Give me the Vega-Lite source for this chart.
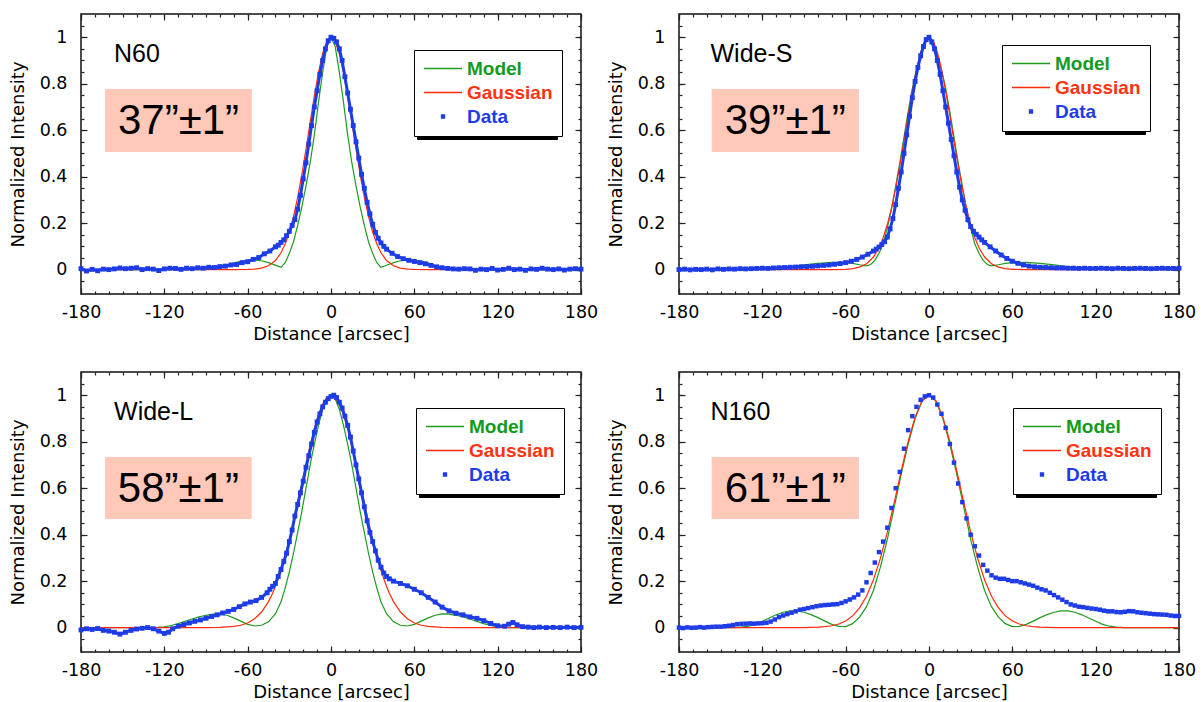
{
"$schema": "https://vega.github.io/schema/vega-lite/v6.json",
"background": "white",
"autosize": {"type": "pad"},
"padding": {"left": 8, "top": 12, "right": 4, "bottom": 4},
"config": {
  "view": {"stroke": "#111", "strokeWidth": 1.5},
  "axis": {"grid": false, "domain": false, "labelFont": "DejaVu Sans", "labelFontSize": 17.5, "labelColor": "#000", "titleFont": "DejaVu Sans", "titleFontSize": 18, "titleFontWeight": "normal", "titleColor": "#000", "tickColor": "#222", "tickWidth": 1.2}
},
"columns": 2,
"spacing": {"row": 78, "column": 98},
"bounds": "flush",
"resolve": {"scale": {"color": "independent", "shape": "independent"}, "legend": {"color": "independent", "shape": "independent"}},
"datasets": {
"n60_model": [{"x":-180,"y":0},{"x":-120,"y":0},{"x":-100,"y":0},{"x":-90,"y":0.001},{"x":-85,"y":0.002},{"x":-80,"y":0.005},{"x":-75,"y":0.016},{"x":-70,"y":0.029},{"x":-65,"y":0.036},{"x":-60,"y":0.04},{"x":-55,"y":0.041},{"x":-50,"y":0.038},{"x":-45,"y":0.03},{"x":-40,"y":0.019},{"x":-36,"y":0.01},{"x":-33,"y":0.03},{"x":-30,"y":0.07},{"x":-27,"y":0.12},{"x":-24,"y":0.19},{"x":-21,"y":0.27},{"x":-18,"y":0.36},{"x":-15,"y":0.46},{"x":-12,"y":0.58},{"x":-9,"y":0.72},{"x":-6,"y":0.85},{"x":-3,"y":0.96},{"x":0,"y":1},{"x":3,"y":0.96},{"x":6,"y":0.85},{"x":9,"y":0.72},{"x":12,"y":0.58},{"x":15,"y":0.46},{"x":18,"y":0.36},{"x":21,"y":0.27},{"x":24,"y":0.19},{"x":27,"y":0.12},{"x":30,"y":0.07},{"x":33,"y":0.03},{"x":36,"y":0.01},{"x":40,"y":0.019},{"x":45,"y":0.03},{"x":50,"y":0.038},{"x":55,"y":0.041},{"x":60,"y":0.04},{"x":65,"y":0.036},{"x":70,"y":0.029},{"x":75,"y":0.016},{"x":80,"y":0.005},{"x":85,"y":0.002},{"x":90,"y":0.001},{"x":100,"y":0},{"x":120,"y":0},{"x":180,"y":0}],
"n60_gauss": [{"x":-180,"y":0},{"x":-90,"y":0},{"x":-70,"y":0.0001},{"x":-60,"y":0.0007},{"x":-55,"y":0.0022},{"x":-50,"y":0.0063},{"x":-45,"y":0.0165},{"x":-40,"y":0.039},{"x":-36,"y":0.0724},{"x":-33,"y":0.11},{"x":-30,"y":0.162},{"x":-27,"y":0.228},{"x":-24,"y":0.311},{"x":-21,"y":0.409},{"x":-18,"y":0.519},{"x":-15,"y":0.634},{"x":-12,"y":0.747},{"x":-9,"y":0.849},{"x":-6,"y":0.93},{"x":-3,"y":0.982},{"x":0,"y":1},{"x":3,"y":0.982},{"x":6,"y":0.93},{"x":9,"y":0.849},{"x":12,"y":0.747},{"x":15,"y":0.634},{"x":18,"y":0.519},{"x":21,"y":0.409},{"x":24,"y":0.311},{"x":27,"y":0.228},{"x":30,"y":0.162},{"x":33,"y":0.11},{"x":36,"y":0.0724},{"x":40,"y":0.039},{"x":45,"y":0.0165},{"x":50,"y":0.0063},{"x":55,"y":0.0022},{"x":60,"y":0.0007},{"x":70,"y":0.0001},{"x":90,"y":0},{"x":180,"y":0}],
"n60_data": [{"x":-180,"y":0.004},{"x":-176,"y":-0.006},{"x":-172,"y":0.001},{"x":-168,"y":-0.005},{"x":-164,"y":0.002},{"x":-160,"y":0.0},{"x":-156,"y":0.003},{"x":-152,"y":0.007},{"x":-148,"y":0.004},{"x":-144,"y":0.006},{"x":-140,"y":0.008},{"x":-136,"y":0.0},{"x":-132,"y":0.004},{"x":-128,"y":0.002},{"x":-124,"y":-0.004},{"x":-120,"y":0.003},{"x":-116,"y":0.006},{"x":-112,"y":0.005},{"x":-108,"y":0.001},{"x":-104,"y":0.006},{"x":-100,"y":0.004},{"x":-96,"y":0.008},{"x":-92,"y":0.006},{"x":-88,"y":0.01},{"x":-84,"y":0.009},{"x":-80,"y":0.013},{"x":-76,"y":0.015},{"x":-72,"y":0.02},{"x":-68,"y":0.022},{"x":-64,"y":0.03},{"x":-60,"y":0.034},{"x":-56,"y":0.044},{"x":-52,"y":0.052},{"x":-48,"y":0.068},{"x":-44,"y":0.08},{"x":-40,"y":0.098},{"x":-38,"y":0.105},{"x":-36,"y":0.117},{"x":-34,"y":0.128},{"x":-32,"y":0.146},{"x":-30,"y":0.165},{"x":-28,"y":0.19},{"x":-26,"y":0.215},{"x":-24,"y":0.26},{"x":-22,"y":0.32},{"x":-20,"y":0.39},{"x":-18,"y":0.46},{"x":-16,"y":0.54},{"x":-14,"y":0.62},{"x":-12,"y":0.7},{"x":-10,"y":0.77},{"x":-8,"y":0.84},{"x":-6,"y":0.9},{"x":-4,"y":0.95},{"x":-2,"y":0.985},{"x":0,"y":1.0},{"x":2,"y":0.995},{"x":4,"y":0.98},{"x":6,"y":0.95},{"x":8,"y":0.9},{"x":10,"y":0.83},{"x":12,"y":0.76},{"x":14,"y":0.69},{"x":16,"y":0.62},{"x":18,"y":0.55},{"x":20,"y":0.48},{"x":22,"y":0.41},{"x":24,"y":0.35},{"x":26,"y":0.29},{"x":28,"y":0.24},{"x":30,"y":0.195},{"x":32,"y":0.16},{"x":34,"y":0.135},{"x":36,"y":0.115},{"x":38,"y":0.1},{"x":40,"y":0.088},{"x":44,"y":0.07},{"x":48,"y":0.056},{"x":52,"y":0.047},{"x":56,"y":0.04},{"x":60,"y":0.035},{"x":64,"y":0.03},{"x":68,"y":0.025},{"x":72,"y":0.018},{"x":76,"y":0.012},{"x":80,"y":0.008},{"x":84,"y":0.005},{"x":88,"y":0.003},{"x":92,"y":0.002},{"x":96,"y":0.004},{"x":100,"y":0.003},{"x":104,"y":-0.003},{"x":108,"y":0.002},{"x":112,"y":0.0},{"x":116,"y":0.005},{"x":120,"y":-0.002},{"x":124,"y":0.001},{"x":128,"y":0.006},{"x":132,"y":0.0},{"x":136,"y":0.002},{"x":140,"y":-0.003},{"x":144,"y":0.003},{"x":148,"y":0.001},{"x":152,"y":0.006},{"x":156,"y":0.002},{"x":160,"y":0.0},{"x":164,"y":0.003},{"x":168,"y":-0.002},{"x":172,"y":0.002},{"x":176,"y":0.004},{"x":180,"y":0.002}],
"ws_model": [{"x":-180,"y":0},{"x":-140,"y":0},{"x":-130,"y":0.001},{"x":-120,"y":0.003},{"x":-110,"y":0.007},{"x":-100,"y":0.013},{"x":-90,"y":0.02},{"x":-80,"y":0.027},{"x":-70,"y":0.031},{"x":-60,"y":0.03},{"x":-55,"y":0.027},{"x":-50,"y":0.021},{"x":-45,"y":0.016},{"x":-42,"y":0.022},{"x":-39,"y":0.04},{"x":-36,"y":0.07},{"x":-33,"y":0.11},{"x":-30,"y":0.18},{"x":-27,"y":0.26},{"x":-24,"y":0.36},{"x":-21,"y":0.46},{"x":-18,"y":0.57},{"x":-15,"y":0.68},{"x":-12,"y":0.78},{"x":-9,"y":0.86},{"x":-6,"y":0.93},{"x":-3,"y":0.98},{"x":0,"y":1},{"x":3,"y":0.98},{"x":6,"y":0.93},{"x":9,"y":0.86},{"x":12,"y":0.78},{"x":15,"y":0.68},{"x":18,"y":0.57},{"x":21,"y":0.46},{"x":24,"y":0.36},{"x":27,"y":0.26},{"x":30,"y":0.18},{"x":33,"y":0.11},{"x":36,"y":0.07},{"x":39,"y":0.04},{"x":42,"y":0.022},{"x":45,"y":0.016},{"x":50,"y":0.021},{"x":55,"y":0.027},{"x":60,"y":0.03},{"x":70,"y":0.031},{"x":80,"y":0.027},{"x":90,"y":0.02},{"x":100,"y":0.013},{"x":110,"y":0.007},{"x":120,"y":0.003},{"x":130,"y":0.001},{"x":140,"y":0},{"x":180,"y":0}],
"ws_gauss": [{"x":-180,"y":0},{"x":-70,"y":0.0001},{"x":-60,"y":0.0014},{"x":-55,"y":0.004},{"x":-50,"y":0.0105},{"x":-45,"y":0.025},{"x":-40,"y":0.054},{"x":-36,"y":0.094},{"x":-33,"y":0.137},{"x":-30,"y":0.194},{"x":-27,"y":0.265},{"x":-24,"y":0.35},{"x":-21,"y":0.447},{"x":-18,"y":0.554},{"x":-15,"y":0.663},{"x":-12,"y":0.769},{"x":-9,"y":0.863},{"x":-6,"y":0.936},{"x":-3,"y":0.984},{"x":0,"y":1},{"x":3,"y":0.984},{"x":6,"y":0.936},{"x":9,"y":0.863},{"x":12,"y":0.769},{"x":15,"y":0.663},{"x":18,"y":0.554},{"x":21,"y":0.447},{"x":24,"y":0.35},{"x":27,"y":0.265},{"x":30,"y":0.194},{"x":33,"y":0.137},{"x":36,"y":0.094},{"x":40,"y":0.054},{"x":45,"y":0.025},{"x":50,"y":0.0105},{"x":55,"y":0.004},{"x":60,"y":0.0014},{"x":70,"y":0.0001},{"x":180,"y":0}],
"ws_data": [{"x":-180,"y":0.0},{"x":-176,"y":0.002},{"x":-172,"y":-0.001},{"x":-168,"y":0.001},{"x":-164,"y":0.0},{"x":-160,"y":0.002},{"x":-156,"y":-0.001},{"x":-152,"y":0.003},{"x":-148,"y":0.001},{"x":-144,"y":0.003},{"x":-140,"y":0.002},{"x":-136,"y":0.004},{"x":-132,"y":0.003},{"x":-128,"y":0.004},{"x":-124,"y":0.005},{"x":-120,"y":0.006},{"x":-116,"y":0.005},{"x":-112,"y":0.007},{"x":-108,"y":0.008},{"x":-104,"y":0.009},{"x":-100,"y":0.01},{"x":-96,"y":0.011},{"x":-92,"y":0.012},{"x":-88,"y":0.013},{"x":-84,"y":0.014},{"x":-80,"y":0.016},{"x":-76,"y":0.018},{"x":-72,"y":0.02},{"x":-68,"y":0.023},{"x":-64,"y":0.026},{"x":-60,"y":0.03},{"x":-56,"y":0.036},{"x":-52,"y":0.044},{"x":-48,"y":0.054},{"x":-44,"y":0.066},{"x":-40,"y":0.08},{"x":-38,"y":0.088},{"x":-36,"y":0.097},{"x":-34,"y":0.108},{"x":-32,"y":0.12},{"x":-30,"y":0.14},{"x":-28,"y":0.175},{"x":-26,"y":0.22},{"x":-24,"y":0.28},{"x":-22,"y":0.35},{"x":-20,"y":0.42},{"x":-18,"y":0.5},{"x":-16,"y":0.58},{"x":-14,"y":0.66},{"x":-12,"y":0.74},{"x":-10,"y":0.81},{"x":-8,"y":0.87},{"x":-6,"y":0.92},{"x":-4,"y":0.96},{"x":-2,"y":0.99},{"x":0,"y":1.0},{"x":2,"y":0.98},{"x":4,"y":0.95},{"x":6,"y":0.9},{"x":8,"y":0.84},{"x":10,"y":0.77},{"x":12,"y":0.7},{"x":14,"y":0.63},{"x":16,"y":0.56},{"x":18,"y":0.49},{"x":20,"y":0.42},{"x":22,"y":0.355},{"x":24,"y":0.3},{"x":26,"y":0.255},{"x":28,"y":0.215},{"x":30,"y":0.185},{"x":32,"y":0.165},{"x":34,"y":0.152},{"x":36,"y":0.14},{"x":38,"y":0.128},{"x":40,"y":0.117},{"x":44,"y":0.098},{"x":48,"y":0.08},{"x":52,"y":0.063},{"x":56,"y":0.048},{"x":60,"y":0.036},{"x":64,"y":0.027},{"x":68,"y":0.02},{"x":72,"y":0.015},{"x":76,"y":0.012},{"x":80,"y":0.01},{"x":84,"y":0.009},{"x":88,"y":0.008},{"x":92,"y":0.007},{"x":96,"y":0.007},{"x":100,"y":0.006},{"x":104,"y":0.006},{"x":108,"y":0.005},{"x":112,"y":0.006},{"x":116,"y":0.005},{"x":120,"y":0.005},{"x":124,"y":0.006},{"x":128,"y":0.005},{"x":132,"y":0.004},{"x":136,"y":0.006},{"x":140,"y":0.005},{"x":144,"y":0.004},{"x":148,"y":0.005},{"x":152,"y":0.006},{"x":156,"y":0.005},{"x":160,"y":0.004},{"x":164,"y":0.005},{"x":168,"y":0.006},{"x":172,"y":0.005},{"x":176,"y":0.005},{"x":180,"y":0.006}],
"wl_model": [{"x":-180,"y":0},{"x":-130,"y":0},{"x":-125,"y":0.001},{"x":-120,"y":0.003},{"x":-115,"y":0.009},{"x":-110,"y":0.017},{"x":-105,"y":0.027},{"x":-100,"y":0.037},{"x":-95,"y":0.046},{"x":-90,"y":0.053},{"x":-85,"y":0.058},{"x":-80,"y":0.059},{"x":-75,"y":0.053},{"x":-70,"y":0.042},{"x":-65,"y":0.028},{"x":-60,"y":0.014},{"x":-55,"y":0.007},{"x":-50,"y":0.01},{"x":-45,"y":0.025},{"x":-40,"y":0.06},{"x":-36,"y":0.11},{"x":-33,"y":0.17},{"x":-30,"y":0.24},{"x":-27,"y":0.32},{"x":-24,"y":0.41},{"x":-21,"y":0.5},{"x":-18,"y":0.6},{"x":-15,"y":0.7},{"x":-12,"y":0.79},{"x":-9,"y":0.87},{"x":-6,"y":0.94},{"x":-3,"y":0.985},{"x":0,"y":1},{"x":3,"y":0.985},{"x":6,"y":0.94},{"x":9,"y":0.87},{"x":12,"y":0.79},{"x":15,"y":0.7},{"x":18,"y":0.6},{"x":21,"y":0.5},{"x":24,"y":0.41},{"x":27,"y":0.32},{"x":30,"y":0.24},{"x":33,"y":0.17},{"x":36,"y":0.11},{"x":40,"y":0.06},{"x":45,"y":0.025},{"x":50,"y":0.01},{"x":55,"y":0.007},{"x":60,"y":0.014},{"x":65,"y":0.028},{"x":70,"y":0.042},{"x":75,"y":0.053},{"x":80,"y":0.059},{"x":85,"y":0.058},{"x":90,"y":0.053},{"x":95,"y":0.046},{"x":100,"y":0.037},{"x":105,"y":0.027},{"x":110,"y":0.017},{"x":115,"y":0.009},{"x":120,"y":0.003},{"x":125,"y":0.001},{"x":130,"y":0},{"x":180,"y":0}],
"wl_gauss": [{"x":-180,"y":0},{"x":-90,"y":0},{"x":-80,"y":0.001},{"x":-70,"y":0.005},{"x":-65,"y":0.01},{"x":-60,"y":0.02},{"x":-55,"y":0.038},{"x":-50,"y":0.067},{"x":-45,"y":0.112},{"x":-42,"y":0.148},{"x":-39,"y":0.193},{"x":-36,"y":0.246},{"x":-33,"y":0.308},{"x":-30,"y":0.378},{"x":-27,"y":0.455},{"x":-24,"y":0.536},{"x":-21,"y":0.621},{"x":-18,"y":0.704},{"x":-15,"y":0.784},{"x":-12,"y":0.856},{"x":-9,"y":0.916},{"x":-6,"y":0.962},{"x":-3,"y":0.99},{"x":0,"y":1},{"x":3,"y":0.99},{"x":6,"y":0.962},{"x":9,"y":0.916},{"x":12,"y":0.856},{"x":15,"y":0.784},{"x":18,"y":0.704},{"x":21,"y":0.621},{"x":24,"y":0.536},{"x":27,"y":0.455},{"x":30,"y":0.378},{"x":33,"y":0.308},{"x":36,"y":0.246},{"x":39,"y":0.193},{"x":42,"y":0.148},{"x":45,"y":0.112},{"x":50,"y":0.067},{"x":55,"y":0.038},{"x":60,"y":0.02},{"x":65,"y":0.01},{"x":70,"y":0.005},{"x":80,"y":0.001},{"x":90,"y":0},{"x":180,"y":0}],
"wl_data": [{"x":-180,"y":-0.01},{"x":-176,"y":-0.005},{"x":-172,"y":-0.008},{"x":-168,"y":-0.004},{"x":-164,"y":-0.012},{"x":-160,"y":-0.015},{"x":-156,"y":-0.02},{"x":-152,"y":-0.028},{"x":-148,"y":-0.02},{"x":-144,"y":-0.012},{"x":-140,"y":-0.006},{"x":-136,"y":-0.003},{"x":-132,"y":0.0},{"x":-128,"y":-0.005},{"x":-124,"y":-0.015},{"x":-120,"y":-0.025},{"x":-117,"y":-0.02},{"x":-114,"y":-0.005},{"x":-110,"y":0.006},{"x":-106,"y":0.013},{"x":-102,"y":0.02},{"x":-98,"y":0.027},{"x":-94,"y":0.033},{"x":-90,"y":0.04},{"x":-86,"y":0.048},{"x":-82,"y":0.055},{"x":-78,"y":0.063},{"x":-74,"y":0.07},{"x":-70,"y":0.078},{"x":-66,"y":0.09},{"x":-62,"y":0.102},{"x":-58,"y":0.11},{"x":-54,"y":0.116},{"x":-50,"y":0.13},{"x":-46,"y":0.15},{"x":-44,"y":0.165},{"x":-42,"y":0.178},{"x":-40,"y":0.19},{"x":-38,"y":0.22},{"x":-36,"y":0.25},{"x":-34,"y":0.285},{"x":-32,"y":0.32},{"x":-30,"y":0.37},{"x":-28,"y":0.42},{"x":-26,"y":0.48},{"x":-24,"y":0.53},{"x":-22,"y":0.58},{"x":-20,"y":0.63},{"x":-18,"y":0.69},{"x":-16,"y":0.74},{"x":-14,"y":0.79},{"x":-12,"y":0.84},{"x":-10,"y":0.885},{"x":-8,"y":0.92},{"x":-6,"y":0.95},{"x":-4,"y":0.97},{"x":-2,"y":0.985},{"x":0,"y":0.995},{"x":2,"y":1.0},{"x":4,"y":0.99},{"x":6,"y":0.97},{"x":8,"y":0.945},{"x":10,"y":0.91},{"x":12,"y":0.87},{"x":14,"y":0.82},{"x":16,"y":0.76},{"x":18,"y":0.7},{"x":20,"y":0.64},{"x":22,"y":0.58},{"x":24,"y":0.52},{"x":26,"y":0.46},{"x":28,"y":0.41},{"x":30,"y":0.37},{"x":32,"y":0.33},{"x":34,"y":0.29},{"x":36,"y":0.26},{"x":38,"y":0.235},{"x":40,"y":0.22},{"x":42,"y":0.21},{"x":45,"y":0.2},{"x":50,"y":0.19},{"x":55,"y":0.18},{"x":60,"y":0.165},{"x":65,"y":0.15},{"x":70,"y":0.13},{"x":75,"y":0.11},{"x":80,"y":0.088},{"x":85,"y":0.072},{"x":90,"y":0.062},{"x":95,"y":0.055},{"x":100,"y":0.046},{"x":105,"y":0.04},{"x":110,"y":0.03},{"x":115,"y":0.018},{"x":120,"y":0.008},{"x":125,"y":0.006},{"x":128,"y":0.015},{"x":131,"y":0.022},{"x":134,"y":0.012},{"x":138,"y":0.004},{"x":142,"y":0.002},{"x":146,"y":0.0},{"x":150,"y":0.002},{"x":155,"y":0.0},{"x":160,"y":0.001},{"x":165,"y":0.0},{"x":170,"y":0.002},{"x":175,"y":0.0},{"x":180,"y":0.001}],
"n160_model": [{"x":-180,"y":0},{"x":-140,"y":0},{"x":-135,"y":0.002},{"x":-130,"y":0.006},{"x":-125,"y":0.014},{"x":-120,"y":0.027},{"x":-115,"y":0.041},{"x":-110,"y":0.055},{"x":-105,"y":0.066},{"x":-100,"y":0.072},{"x":-95,"y":0.072},{"x":-90,"y":0.066},{"x":-85,"y":0.056},{"x":-80,"y":0.043},{"x":-75,"y":0.028},{"x":-70,"y":0.014},{"x":-65,"y":0.005},{"x":-60,"y":0.004},{"x":-55,"y":0.017},{"x":-50,"y":0.045},{"x":-45,"y":0.09},{"x":-40,"y":0.16},{"x":-35,"y":0.26},{"x":-30,"y":0.38},{"x":-25,"y":0.52},{"x":-20,"y":0.66},{"x":-15,"y":0.79},{"x":-10,"y":0.9},{"x":-5,"y":0.975},{"x":0,"y":1},{"x":5,"y":0.975},{"x":10,"y":0.9},{"x":15,"y":0.79},{"x":20,"y":0.66},{"x":25,"y":0.52},{"x":30,"y":0.38},{"x":35,"y":0.26},{"x":40,"y":0.16},{"x":45,"y":0.09},{"x":50,"y":0.045},{"x":55,"y":0.017},{"x":60,"y":0.004},{"x":65,"y":0.005},{"x":70,"y":0.014},{"x":75,"y":0.028},{"x":80,"y":0.043},{"x":85,"y":0.056},{"x":90,"y":0.066},{"x":95,"y":0.072},{"x":100,"y":0.072},{"x":105,"y":0.066},{"x":110,"y":0.055},{"x":115,"y":0.041},{"x":120,"y":0.027},{"x":125,"y":0.014},{"x":130,"y":0.006},{"x":135,"y":0.002},{"x":140,"y":0},{"x":180,"y":0}],
"n160_gauss": [{"x":-180,"y":0},{"x":-100,"y":0},{"x":-90,"y":0.0003},{"x":-80,"y":0.0018},{"x":-75,"y":0.0039},{"x":-70,"y":0.0079},{"x":-65,"y":0.0154},{"x":-60,"y":0.0286},{"x":-55,"y":0.0504},{"x":-50,"y":0.0847},{"x":-45,"y":0.135},{"x":-40,"y":0.206},{"x":-35,"y":0.298},{"x":-30,"y":0.411},{"x":-25,"y":0.539},{"x":-20,"y":0.674},{"x":-15,"y":0.801},{"x":-10,"y":0.906},{"x":-5,"y":0.976},{"x":0,"y":1},{"x":5,"y":0.976},{"x":10,"y":0.906},{"x":15,"y":0.801},{"x":20,"y":0.674},{"x":25,"y":0.539},{"x":30,"y":0.411},{"x":35,"y":0.298},{"x":40,"y":0.206},{"x":45,"y":0.135},{"x":50,"y":0.0847},{"x":55,"y":0.0504},{"x":60,"y":0.0286},{"x":65,"y":0.0154},{"x":70,"y":0.0079},{"x":75,"y":0.0039},{"x":80,"y":0.0018},{"x":90,"y":0.0003},{"x":100,"y":0},{"x":180,"y":0}],
"n160_data": [{"x":-180,"y":0.0},{"x":-177,"y":-0.002},{"x":-174,"y":0.001},{"x":-171,"y":-0.001},{"x":-168,"y":0.0},{"x":-165,"y":0.002},{"x":-162,"y":0.0},{"x":-159,"y":0.002},{"x":-156,"y":0.003},{"x":-153,"y":0.004},{"x":-150,"y":0.004},{"x":-147,"y":0.006},{"x":-144,"y":0.008},{"x":-141,"y":0.011},{"x":-138,"y":0.015},{"x":-135,"y":0.016},{"x":-132,"y":0.017},{"x":-129,"y":0.018},{"x":-126,"y":0.017},{"x":-123,"y":0.018},{"x":-120,"y":0.019},{"x":-117,"y":0.021},{"x":-114,"y":0.026},{"x":-111,"y":0.035},{"x":-108,"y":0.045},{"x":-105,"y":0.052},{"x":-102,"y":0.058},{"x":-99,"y":0.064},{"x":-96,"y":0.07},{"x":-93,"y":0.077},{"x":-90,"y":0.08},{"x":-87,"y":0.084},{"x":-84,"y":0.088},{"x":-81,"y":0.092},{"x":-78,"y":0.095},{"x":-75,"y":0.097},{"x":-72,"y":0.098},{"x":-69,"y":0.1},{"x":-66,"y":0.101},{"x":-63,"y":0.106},{"x":-60,"y":0.113},{"x":-57,"y":0.121},{"x":-54,"y":0.13},{"x":-51,"y":0.142},{"x":-48,"y":0.16},{"x":-45,"y":0.195},{"x":-42,"y":0.235},{"x":-39,"y":0.28},{"x":-36,"y":0.325},{"x":-33,"y":0.37},{"x":-30,"y":0.43},{"x":-27,"y":0.515},{"x":-24,"y":0.6},{"x":-21,"y":0.67},{"x":-18,"y":0.77},{"x":-15,"y":0.85},{"x":-12,"y":0.91},{"x":-9,"y":0.95},{"x":-6,"y":0.98},{"x":-3,"y":0.995},{"x":0,"y":1.0},{"x":3,"y":0.99},{"x":6,"y":0.96},{"x":9,"y":0.92},{"x":12,"y":0.86},{"x":15,"y":0.79},{"x":18,"y":0.71},{"x":21,"y":0.62},{"x":24,"y":0.54},{"x":27,"y":0.47},{"x":30,"y":0.4},{"x":33,"y":0.35},{"x":36,"y":0.31},{"x":39,"y":0.27},{"x":42,"y":0.245},{"x":45,"y":0.225},{"x":48,"y":0.215},{"x":51,"y":0.21},{"x":54,"y":0.21},{"x":57,"y":0.205},{"x":60,"y":0.2},{"x":63,"y":0.2},{"x":66,"y":0.195},{"x":69,"y":0.19},{"x":72,"y":0.185},{"x":75,"y":0.18},{"x":78,"y":0.172},{"x":81,"y":0.165},{"x":84,"y":0.16},{"x":87,"y":0.15},{"x":90,"y":0.14},{"x":93,"y":0.13},{"x":96,"y":0.12},{"x":99,"y":0.11},{"x":102,"y":0.1},{"x":105,"y":0.095},{"x":108,"y":0.09},{"x":111,"y":0.088},{"x":114,"y":0.085},{"x":117,"y":0.082},{"x":120,"y":0.08},{"x":123,"y":0.077},{"x":126,"y":0.073},{"x":129,"y":0.07},{"x":132,"y":0.07},{"x":135,"y":0.067},{"x":138,"y":0.066},{"x":141,"y":0.068},{"x":144,"y":0.071},{"x":147,"y":0.07},{"x":150,"y":0.066},{"x":153,"y":0.064},{"x":156,"y":0.062},{"x":159,"y":0.06},{"x":162,"y":0.058},{"x":165,"y":0.057},{"x":168,"y":0.056},{"x":171,"y":0.055},{"x":174,"y":0.052},{"x":177,"y":0.05},{"x":180,"y":0.05}]
},
"concat": [
{
 "width": 500, "height": 280,
 "resolve": {"axis": {"x": "independent", "y": "independent"}},
 "layer": [
  {"data": {"values": [{"name": "N60", "fwhm": "37”±1”"}]},
   "mark": {"type": "rect", "color": "#ffc8b9"},
   "encoding": {
    "x": {"datum": -162.7, "type": "quantitative", "scale": {"domain": [-180, 180], "nice": false, "zero": false}, "axis": {"orient": "bottom", "values": [-180,-120,-60,0,60,120,180], "ticks": false, "labelPadding": 9, "labelExpr": "'' + datum.value", "labelFlush": false, "labelOverlap": false, "title": "Distance [arcsec]", "titlePadding": 5}},
    "x2": {"datum": -57.0},
    "y": {"datum": 0.506, "type": "quantitative", "scale": {"domain": [-0.105, 1.1], "nice": false, "zero": false}, "axis": {"orient": "left", "values": [0,0.2,0.4,0.6,0.8,1], "ticks": false, "labelPadding": 14, "labelExpr": "'' + datum.value", "labelOverlap": false, "labelFlush": false, "title": "Normalized Intensity", "titlePadding": 12}},
    "y2": {"datum": 0.777}
   }},
  {"data": {"values": [{"name": "N60", "fwhm": "37”±1”"}]},
   "mark": {"type": "text", "font": "Liberation Sans", "fontSize": 42, "align": "center", "baseline": "alphabetic", "color": "#000"},
   "encoding": {
    "text": {"field": "fwhm"},
    "x": {"datum": -109.8, "type": "quantitative", "scale": {"domain": [-180, 180], "nice": false, "zero": false}, "axis": {"orient": "bottom", "values": [-180,-170,-160,-150,-140,-130,-120,-110,-100,-90,-80,-70,-60,-50,-40,-30,-20,-10,0,10,20,30,40,50,60,70,80,90,100,110,120,130,140,150,160,170,180], "labels": false, "tickSize": -3, "title": null}},
    "y": {"datum": 0.584, "type": "quantitative", "scale": {"domain": [-0.105, 1.1], "nice": false, "zero": false}, "axis": {"orient": "left", "values": [-0.05,0,0.05,0.1,0.15,0.2,0.25,0.3,0.35,0.4,0.45,0.5,0.55,0.6,0.65,0.7,0.75,0.8,0.85,0.9,0.95,1,1.05], "labels": false, "tickSize": -3, "title": null}}
   }},
  {"data": {"values": [{"name": "N60", "fwhm": "37”±1”"}]},
   "mark": {"type": "text", "font": "Liberation Sans", "fontSize": 25, "align": "left", "baseline": "alphabetic", "color": "#000"},
   "encoding": {
    "text": {"field": "name"},
    "x": {"datum": -156.2, "type": "quantitative", "scale": {"domain": [-180, 180], "nice": false, "zero": false}, "axis": {"orient": "bottom", "values": [-180,-120,-60,0,60,120,180], "labels": false, "tickSize": -6, "title": null}},
    "y": {"datum": 0.893, "type": "quantitative", "scale": {"domain": [-0.105, 1.1], "nice": false, "zero": false}, "axis": {"orient": "left", "values": [0,0.2,0.4,0.6,0.8,1], "labels": false, "tickSize": -6, "title": null}}
   }},
  {"data": {"name": "n60_model"},
   "mark": {"type": "line", "strokeWidth": 1.2},
   "encoding": {
    "x": {"field": "x", "type": "quantitative", "scale": {"domain": [-180, 180], "nice": false, "zero": false}, "axis": {"orient": "top", "values": [-180,-170,-160,-150,-140,-130,-120,-110,-100,-90,-80,-70,-60,-50,-40,-30,-20,-10,0,10,20,30,40,50,60,70,80,90,100,110,120,130,140,150,160,170,180], "labels": false, "tickSize": -3, "title": null}},
    "y": {"field": "y", "type": "quantitative", "scale": {"domain": [-0.105, 1.1], "nice": false, "zero": false}, "axis": {"orient": "right", "values": [-0.05,0,0.05,0.1,0.15,0.2,0.25,0.3,0.35,0.4,0.45,0.5,0.55,0.6,0.65,0.7,0.75,0.8,0.85,0.9,0.95,1,1.05], "labels": false, "tickSize": -3, "title": null}},
    "color": {"datum": "Model", "scale": {"domain": ["Model", "Gaussian", "Data"], "range": ["#1f9a1f", "#ff2a0a", "#1e3ce6"]},
     "legend": {"orient": "none", "legendX": 333, "legendY": 36, "title": null, "fillColor": "#fff", "strokeColor": "#000", "padding": 9, "clipHeight": 19, "symbolSize": 1444, "symbolType": {"expr": "datum.value === 'Data' ? 'M-0.08,-0.08H0.08V0.08H-0.08Z' : 'stroke'"}, "symbolStrokeWidth": 1.3, "labelFont": "Liberation Sans", "labelFontSize": 19, "labelFontWeight": "bold", "labelOffset": 4, "rowPadding": 4, "zindex": 1, "labelColor": {"expr": "datum.value === 'Model' ? '#139a22' : datum.value === 'Gaussian' ? '#ff3311' : '#1e3ce6'"}}}
   }},
  {"data": {"name": "n60_gauss"},
   "mark": {"type": "line", "strokeWidth": 1.2},
   "encoding": {
    "x": {"field": "x", "type": "quantitative", "scale": {"domain": [-180, 180], "nice": false, "zero": false}, "axis": {"orient": "top", "values": [-180,-120,-60,0,60,120,180], "labels": false, "tickSize": -6, "title": null}},
    "y": {"field": "y", "type": "quantitative", "scale": {"domain": [-0.105, 1.1], "nice": false, "zero": false}, "axis": {"orient": "right", "values": [0,0.2,0.4,0.6,0.8,1], "labels": false, "tickSize": -6, "title": null}},
    "color": {"datum": "Gaussian"}
   }},
  {"data": {"name": "n60_data"},
   "mark": {"type": "line", "strokeWidth": 3},
   "encoding": {
    "x": {"field": "x", "type": "quantitative", "axis": null},
    "y": {"field": "y", "type": "quantitative", "axis": null},
    "color": {"datum": "Data"}
   }},
  {"data": {"name": "n60_data"},
   "mark": {"type": "point", "shape": "square", "filled": true, "size": 24, "strokeWidth": 0, "opacity": 1},
   "encoding": {
    "x": {"field": "x", "type": "quantitative", "axis": null},
    "y": {"field": "y", "type": "quantitative", "axis": null},
    "color": {"datum": "Data"},
    "shape": {"datum": "Data", "scale": {"domain": ["Data", "Model", "Gaussian"], "range": ["square", "square", "square"]},
     "legend": {"orient": "none", "legendX": 336, "legendY": 39, "title": null, "fillColor": "#000", "strokeColor": "#000", "padding": 9, "clipHeight": 19, "symbolSize": 16, "symbolStrokeWidth": 1.3, "labelFont": "Liberation Sans", "labelFontSize": 19, "labelFontWeight": "bold", "labelColor": "#000", "labelExpr": "' '", "labelOffset": 103, "rowPadding": 4, "zindex": 0}}
   }}
 ]
},
{
 "width": 500, "height": 280,
 "resolve": {"axis": {"x": "independent", "y": "independent"}},
 "layer": [
  {"data": {"values": [{"name": "Wide-S", "fwhm": "39”±1”"}]},
   "mark": {"type": "rect", "color": "#ffc8b9"},
   "encoding": {
    "x": {"datum": -156.5, "type": "quantitative", "scale": {"domain": [-180, 180], "nice": false, "zero": false}, "axis": {"orient": "bottom", "values": [-180,-120,-60,0,60,120,180], "ticks": false, "labelPadding": 9, "labelExpr": "'' + datum.value", "labelFlush": false, "labelOverlap": false, "title": "Distance [arcsec]", "titlePadding": 5}},
    "x2": {"datum": -50.5},
    "y": {"datum": 0.506, "type": "quantitative", "scale": {"domain": [-0.105, 1.1], "nice": false, "zero": false}, "axis": {"orient": "left", "values": [0,0.2,0.4,0.6,0.8,1], "ticks": false, "labelPadding": 14, "labelExpr": "'' + datum.value", "labelOverlap": false, "labelFlush": false, "title": "Normalized Intensity", "titlePadding": 12}},
    "y2": {"datum": 0.777}
   }},
  {"data": {"values": [{"name": "Wide-S", "fwhm": "39”±1”"}]},
   "mark": {"type": "text", "font": "Liberation Sans", "fontSize": 42, "align": "center", "baseline": "alphabetic", "color": "#000"},
   "encoding": {
    "text": {"field": "fwhm"},
    "x": {"datum": -103.5, "type": "quantitative", "scale": {"domain": [-180, 180], "nice": false, "zero": false}, "axis": {"orient": "bottom", "values": [-180,-170,-160,-150,-140,-130,-120,-110,-100,-90,-80,-70,-60,-50,-40,-30,-20,-10,0,10,20,30,40,50,60,70,80,90,100,110,120,130,140,150,160,170,180], "labels": false, "tickSize": -3, "title": null}},
    "y": {"datum": 0.584, "type": "quantitative", "scale": {"domain": [-0.105, 1.1], "nice": false, "zero": false}, "axis": {"orient": "left", "values": [-0.05,0,0.05,0.1,0.15,0.2,0.25,0.3,0.35,0.4,0.45,0.5,0.55,0.6,0.65,0.7,0.75,0.8,0.85,0.9,0.95,1,1.05], "labels": false, "tickSize": -3, "title": null}}
   }},
  {"data": {"values": [{"name": "Wide-S", "fwhm": "39”±1”"}]},
   "mark": {"type": "text", "font": "Liberation Sans", "fontSize": 25, "align": "left", "baseline": "alphabetic", "color": "#000"},
   "encoding": {
    "text": {"field": "name"},
    "x": {"datum": -157.3, "type": "quantitative", "scale": {"domain": [-180, 180], "nice": false, "zero": false}, "axis": {"orient": "bottom", "values": [-180,-120,-60,0,60,120,180], "labels": false, "tickSize": -6, "title": null}},
    "y": {"datum": 0.893, "type": "quantitative", "scale": {"domain": [-0.105, 1.1], "nice": false, "zero": false}, "axis": {"orient": "left", "values": [0,0.2,0.4,0.6,0.8,1], "labels": false, "tickSize": -6, "title": null}}
   }},
  {"data": {"name": "ws_model"},
   "mark": {"type": "line", "strokeWidth": 1.2},
   "encoding": {
    "x": {"field": "x", "type": "quantitative", "scale": {"domain": [-180, 180], "nice": false, "zero": false}, "axis": {"orient": "top", "values": [-180,-170,-160,-150,-140,-130,-120,-110,-100,-90,-80,-70,-60,-50,-40,-30,-20,-10,0,10,20,30,40,50,60,70,80,90,100,110,120,130,140,150,160,170,180], "labels": false, "tickSize": -3, "title": null}},
    "y": {"field": "y", "type": "quantitative", "scale": {"domain": [-0.105, 1.1], "nice": false, "zero": false}, "axis": {"orient": "right", "values": [-0.05,0,0.05,0.1,0.15,0.2,0.25,0.3,0.35,0.4,0.45,0.5,0.55,0.6,0.65,0.7,0.75,0.8,0.85,0.9,0.95,1,1.05], "labels": false, "tickSize": -3, "title": null}},
    "color": {"datum": "Model", "scale": {"domain": ["Model", "Gaussian", "Data"], "range": ["#1f9a1f", "#ff2a0a", "#1e3ce6"]},
     "legend": {"orient": "none", "legendX": 323, "legendY": 31, "title": null, "fillColor": "#fff", "strokeColor": "#000", "padding": 9, "clipHeight": 19, "symbolSize": 1444, "symbolType": {"expr": "datum.value === 'Data' ? 'M-0.08,-0.08H0.08V0.08H-0.08Z' : 'stroke'"}, "symbolStrokeWidth": 1.3, "labelFont": "Liberation Sans", "labelFontSize": 19, "labelFontWeight": "bold", "labelOffset": 4, "rowPadding": 4, "zindex": 1, "labelColor": {"expr": "datum.value === 'Model' ? '#139a22' : datum.value === 'Gaussian' ? '#ff3311' : '#1e3ce6'"}}}
   }},
  {"data": {"name": "ws_gauss"},
   "mark": {"type": "line", "strokeWidth": 1.2},
   "encoding": {
    "x": {"field": "x", "type": "quantitative", "scale": {"domain": [-180, 180], "nice": false, "zero": false}, "axis": {"orient": "top", "values": [-180,-120,-60,0,60,120,180], "labels": false, "tickSize": -6, "title": null}},
    "y": {"field": "y", "type": "quantitative", "scale": {"domain": [-0.105, 1.1], "nice": false, "zero": false}, "axis": {"orient": "right", "values": [0,0.2,0.4,0.6,0.8,1], "labels": false, "tickSize": -6, "title": null}},
    "color": {"datum": "Gaussian"}
   }},
  {"data": {"name": "ws_data"},
   "mark": {"type": "line", "strokeWidth": 3},
   "encoding": {
    "x": {"field": "x", "type": "quantitative", "axis": null},
    "y": {"field": "y", "type": "quantitative", "axis": null},
    "color": {"datum": "Data"}
   }},
  {"data": {"name": "ws_data"},
   "mark": {"type": "point", "shape": "square", "filled": true, "size": 24, "strokeWidth": 0, "opacity": 1},
   "encoding": {
    "x": {"field": "x", "type": "quantitative", "axis": null},
    "y": {"field": "y", "type": "quantitative", "axis": null},
    "color": {"datum": "Data"},
    "shape": {"datum": "Data", "scale": {"domain": ["Data", "Model", "Gaussian"], "range": ["square", "square", "square"]},
     "legend": {"orient": "none", "legendX": 326, "legendY": 34, "title": null, "fillColor": "#000", "strokeColor": "#000", "padding": 9, "clipHeight": 19, "symbolSize": 16, "symbolStrokeWidth": 1.3, "labelFont": "Liberation Sans", "labelFontSize": 19, "labelFontWeight": "bold", "labelColor": "#000", "labelExpr": "' '", "labelOffset": 103, "rowPadding": 4, "zindex": 0}}
   }}
 ]
},
{
 "width": 500, "height": 280,
 "resolve": {"axis": {"x": "independent", "y": "independent"}},
 "layer": [
  {"data": {"values": [{"name": "Wide-L", "fwhm": "58”±1”"}]},
   "mark": {"type": "rect", "color": "#ffc8b9"},
   "encoding": {
    "x": {"datum": -162.7, "type": "quantitative", "scale": {"domain": [-180, 180], "nice": false, "zero": false}, "axis": {"orient": "bottom", "values": [-180,-120,-60,0,60,120,180], "ticks": false, "labelPadding": 9, "labelExpr": "'' + datum.value", "labelFlush": false, "labelOverlap": false, "title": "Distance [arcsec]", "titlePadding": 5}},
    "x2": {"datum": -57.1},
    "y": {"datum": 0.467, "type": "quantitative", "scale": {"domain": [-0.105, 1.1], "nice": false, "zero": false}, "axis": {"orient": "left", "values": [0,0.2,0.4,0.6,0.8,1], "ticks": false, "labelPadding": 14, "labelExpr": "'' + datum.value", "labelOverlap": false, "labelFlush": false, "title": "Normalized Intensity", "titlePadding": 12}},
    "y2": {"datum": 0.734}
   }},
  {"data": {"values": [{"name": "Wide-L", "fwhm": "58”±1”"}]},
   "mark": {"type": "text", "font": "Liberation Sans", "fontSize": 42, "align": "center", "baseline": "alphabetic", "color": "#000"},
   "encoding": {
    "text": {"field": "fwhm"},
    "x": {"datum": -109.9, "type": "quantitative", "scale": {"domain": [-180, 180], "nice": false, "zero": false}, "axis": {"orient": "bottom", "values": [-180,-170,-160,-150,-140,-130,-120,-110,-100,-90,-80,-70,-60,-50,-40,-30,-20,-10,0,10,20,30,40,50,60,70,80,90,100,110,120,130,140,150,160,170,180], "labels": false, "tickSize": -3, "title": null}},
    "y": {"datum": 0.541, "type": "quantitative", "scale": {"domain": [-0.105, 1.1], "nice": false, "zero": false}, "axis": {"orient": "left", "values": [-0.05,0,0.05,0.1,0.15,0.2,0.25,0.3,0.35,0.4,0.45,0.5,0.55,0.6,0.65,0.7,0.75,0.8,0.85,0.9,0.95,1,1.05], "labels": false, "tickSize": -3, "title": null}}
   }},
  {"data": {"values": [{"name": "Wide-L", "fwhm": "58”±1”"}]},
   "mark": {"type": "text", "font": "Liberation Sans", "fontSize": 25, "align": "left", "baseline": "alphabetic", "color": "#000"},
   "encoding": {
    "text": {"field": "name"},
    "x": {"datum": -156.2, "type": "quantitative", "scale": {"domain": [-180, 180], "nice": false, "zero": false}, "axis": {"orient": "bottom", "values": [-180,-120,-60,0,60,120,180], "labels": false, "tickSize": -6, "title": null}},
    "y": {"datum": 0.892, "type": "quantitative", "scale": {"domain": [-0.105, 1.1], "nice": false, "zero": false}, "axis": {"orient": "left", "values": [0,0.2,0.4,0.6,0.8,1], "labels": false, "tickSize": -6, "title": null}}
   }},
  {"data": {"name": "wl_model"},
   "mark": {"type": "line", "strokeWidth": 1.2},
   "encoding": {
    "x": {"field": "x", "type": "quantitative", "scale": {"domain": [-180, 180], "nice": false, "zero": false}, "axis": {"orient": "top", "values": [-180,-170,-160,-150,-140,-130,-120,-110,-100,-90,-80,-70,-60,-50,-40,-30,-20,-10,0,10,20,30,40,50,60,70,80,90,100,110,120,130,140,150,160,170,180], "labels": false, "tickSize": -3, "title": null}},
    "y": {"field": "y", "type": "quantitative", "scale": {"domain": [-0.105, 1.1], "nice": false, "zero": false}, "axis": {"orient": "right", "values": [-0.05,0,0.05,0.1,0.15,0.2,0.25,0.3,0.35,0.4,0.45,0.5,0.55,0.6,0.65,0.7,0.75,0.8,0.85,0.9,0.95,1,1.05], "labels": false, "tickSize": -3, "title": null}},
    "color": {"datum": "Model", "scale": {"domain": ["Model", "Gaussian", "Data"], "range": ["#1f9a1f", "#ff2a0a", "#1e3ce6"]},
     "legend": {"orient": "none", "legendX": 335, "legendY": 36, "title": null, "fillColor": "#fff", "strokeColor": "#000", "padding": 9, "clipHeight": 19, "symbolSize": 1444, "symbolType": {"expr": "datum.value === 'Data' ? 'M-0.08,-0.08H0.08V0.08H-0.08Z' : 'stroke'"}, "symbolStrokeWidth": 1.3, "labelFont": "Liberation Sans", "labelFontSize": 19, "labelFontWeight": "bold", "labelOffset": 4, "rowPadding": 4, "zindex": 1, "labelColor": {"expr": "datum.value === 'Model' ? '#139a22' : datum.value === 'Gaussian' ? '#ff3311' : '#1e3ce6'"}}}
   }},
  {"data": {"name": "wl_gauss"},
   "mark": {"type": "line", "strokeWidth": 1.2},
   "encoding": {
    "x": {"field": "x", "type": "quantitative", "scale": {"domain": [-180, 180], "nice": false, "zero": false}, "axis": {"orient": "top", "values": [-180,-120,-60,0,60,120,180], "labels": false, "tickSize": -6, "title": null}},
    "y": {"field": "y", "type": "quantitative", "scale": {"domain": [-0.105, 1.1], "nice": false, "zero": false}, "axis": {"orient": "right", "values": [0,0.2,0.4,0.6,0.8,1], "labels": false, "tickSize": -6, "title": null}},
    "color": {"datum": "Gaussian"}
   }},
  {"data": {"name": "wl_data"},
   "mark": {"type": "line", "strokeWidth": 3},
   "encoding": {
    "x": {"field": "x", "type": "quantitative", "axis": null},
    "y": {"field": "y", "type": "quantitative", "axis": null},
    "color": {"datum": "Data"}
   }},
  {"data": {"name": "wl_data"},
   "mark": {"type": "point", "shape": "square", "filled": true, "size": 24, "strokeWidth": 0, "opacity": 1},
   "encoding": {
    "x": {"field": "x", "type": "quantitative", "axis": null},
    "y": {"field": "y", "type": "quantitative", "axis": null},
    "color": {"datum": "Data"},
    "shape": {"datum": "Data", "scale": {"domain": ["Data", "Model", "Gaussian"], "range": ["square", "square", "square"]},
     "legend": {"orient": "none", "legendX": 338, "legendY": 39, "title": null, "fillColor": "#000", "strokeColor": "#000", "padding": 9, "clipHeight": 19, "symbolSize": 16, "symbolStrokeWidth": 1.3, "labelFont": "Liberation Sans", "labelFontSize": 19, "labelFontWeight": "bold", "labelColor": "#000", "labelExpr": "' '", "labelOffset": 103, "rowPadding": 4, "zindex": 0}}
   }}
 ]
},
{
 "width": 500, "height": 280,
 "resolve": {"axis": {"x": "independent", "y": "independent"}},
 "layer": [
  {"data": {"values": [{"name": "N160", "fwhm": "61”±1”"}]},
   "mark": {"type": "rect", "color": "#ffc8b9"},
   "encoding": {
    "x": {"datum": -156.5, "type": "quantitative", "scale": {"domain": [-180, 180], "nice": false, "zero": false}, "axis": {"orient": "bottom", "values": [-180,-120,-60,0,60,120,180], "ticks": false, "labelPadding": 9, "labelExpr": "'' + datum.value", "labelFlush": false, "labelOverlap": false, "title": "Distance [arcsec]", "titlePadding": 5}},
    "x2": {"datum": -50.5},
    "y": {"datum": 0.467, "type": "quantitative", "scale": {"domain": [-0.105, 1.1], "nice": false, "zero": false}, "axis": {"orient": "left", "values": [0,0.2,0.4,0.6,0.8,1], "ticks": false, "labelPadding": 14, "labelExpr": "'' + datum.value", "labelOverlap": false, "labelFlush": false, "title": "Normalized Intensity", "titlePadding": 12}},
    "y2": {"datum": 0.734}
   }},
  {"data": {"values": [{"name": "N160", "fwhm": "61”±1”"}]},
   "mark": {"type": "text", "font": "Liberation Sans", "fontSize": 42, "align": "center", "baseline": "alphabetic", "color": "#000"},
   "encoding": {
    "text": {"field": "fwhm"},
    "x": {"datum": -103.5, "type": "quantitative", "scale": {"domain": [-180, 180], "nice": false, "zero": false}, "axis": {"orient": "bottom", "values": [-180,-170,-160,-150,-140,-130,-120,-110,-100,-90,-80,-70,-60,-50,-40,-30,-20,-10,0,10,20,30,40,50,60,70,80,90,100,110,120,130,140,150,160,170,180], "labels": false, "tickSize": -3, "title": null}},
    "y": {"datum": 0.541, "type": "quantitative", "scale": {"domain": [-0.105, 1.1], "nice": false, "zero": false}, "axis": {"orient": "left", "values": [-0.05,0,0.05,0.1,0.15,0.2,0.25,0.3,0.35,0.4,0.45,0.5,0.55,0.6,0.65,0.7,0.75,0.8,0.85,0.9,0.95,1,1.05], "labels": false, "tickSize": -3, "title": null}}
   }},
  {"data": {"values": [{"name": "N160", "fwhm": "61”±1”"}]},
   "mark": {"type": "text", "font": "Liberation Sans", "fontSize": 25, "align": "left", "baseline": "alphabetic", "color": "#000"},
   "encoding": {
    "text": {"field": "name"},
    "x": {"datum": -157.3, "type": "quantitative", "scale": {"domain": [-180, 180], "nice": false, "zero": false}, "axis": {"orient": "bottom", "values": [-180,-120,-60,0,60,120,180], "labels": false, "tickSize": -6, "title": null}},
    "y": {"datum": 0.892, "type": "quantitative", "scale": {"domain": [-0.105, 1.1], "nice": false, "zero": false}, "axis": {"orient": "left", "values": [0,0.2,0.4,0.6,0.8,1], "labels": false, "tickSize": -6, "title": null}}
   }},
  {"data": {"name": "n160_model"},
   "mark": {"type": "line", "strokeWidth": 1.2},
   "encoding": {
    "x": {"field": "x", "type": "quantitative", "scale": {"domain": [-180, 180], "nice": false, "zero": false}, "axis": {"orient": "top", "values": [-180,-170,-160,-150,-140,-130,-120,-110,-100,-90,-80,-70,-60,-50,-40,-30,-20,-10,0,10,20,30,40,50,60,70,80,90,100,110,120,130,140,150,160,170,180], "labels": false, "tickSize": -3, "title": null}},
    "y": {"field": "y", "type": "quantitative", "scale": {"domain": [-0.105, 1.1], "nice": false, "zero": false}, "axis": {"orient": "right", "values": [-0.05,0,0.05,0.1,0.15,0.2,0.25,0.3,0.35,0.4,0.45,0.5,0.55,0.6,0.65,0.7,0.75,0.8,0.85,0.9,0.95,1,1.05], "labels": false, "tickSize": -3, "title": null}},
    "color": {"datum": "Model", "scale": {"domain": ["Model", "Gaussian", "Data"], "range": ["#1f9a1f", "#ff2a0a", "#1e3ce6"]},
     "legend": {"orient": "none", "legendX": 334, "legendY": 36, "title": null, "fillColor": "#fff", "strokeColor": "#000", "padding": 9, "clipHeight": 19, "symbolSize": 1444, "symbolType": {"expr": "datum.value === 'Data' ? 'M-0.08,-0.08H0.08V0.08H-0.08Z' : 'stroke'"}, "symbolStrokeWidth": 1.3, "labelFont": "Liberation Sans", "labelFontSize": 19, "labelFontWeight": "bold", "labelOffset": 4, "rowPadding": 4, "zindex": 1, "labelColor": {"expr": "datum.value === 'Model' ? '#139a22' : datum.value === 'Gaussian' ? '#ff3311' : '#1e3ce6'"}}}
   }},
  {"data": {"name": "n160_gauss"},
   "mark": {"type": "line", "strokeWidth": 1.2},
   "encoding": {
    "x": {"field": "x", "type": "quantitative", "scale": {"domain": [-180, 180], "nice": false, "zero": false}, "axis": {"orient": "top", "values": [-180,-120,-60,0,60,120,180], "labels": false, "tickSize": -6, "title": null}},
    "y": {"field": "y", "type": "quantitative", "scale": {"domain": [-0.105, 1.1], "nice": false, "zero": false}, "axis": {"orient": "right", "values": [0,0.2,0.4,0.6,0.8,1], "labels": false, "tickSize": -6, "title": null}},
    "color": {"datum": "Gaussian"}
   }},
  {"data": {"name": "n160_data"},
   "mark": {"type": "point", "shape": "square", "filled": true, "size": 20, "strokeWidth": 0, "opacity": 1},
   "encoding": {
    "x": {"field": "x", "type": "quantitative", "axis": null},
    "y": {"field": "y", "type": "quantitative", "axis": null},
    "color": {"datum": "Data"},
    "shape": {"datum": "Data", "scale": {"domain": ["Data", "Model", "Gaussian"], "range": ["square", "square", "square"]},
     "legend": {"orient": "none", "legendX": 337, "legendY": 39, "title": null, "fillColor": "#000", "strokeColor": "#000", "padding": 9, "clipHeight": 19, "symbolSize": 16, "symbolStrokeWidth": 1.3, "labelFont": "Liberation Sans", "labelFontSize": 19, "labelFontWeight": "bold", "labelColor": "#000", "labelExpr": "' '", "labelOffset": 103, "rowPadding": 4, "zindex": 0}}
   }}
 ]
}
]
}
